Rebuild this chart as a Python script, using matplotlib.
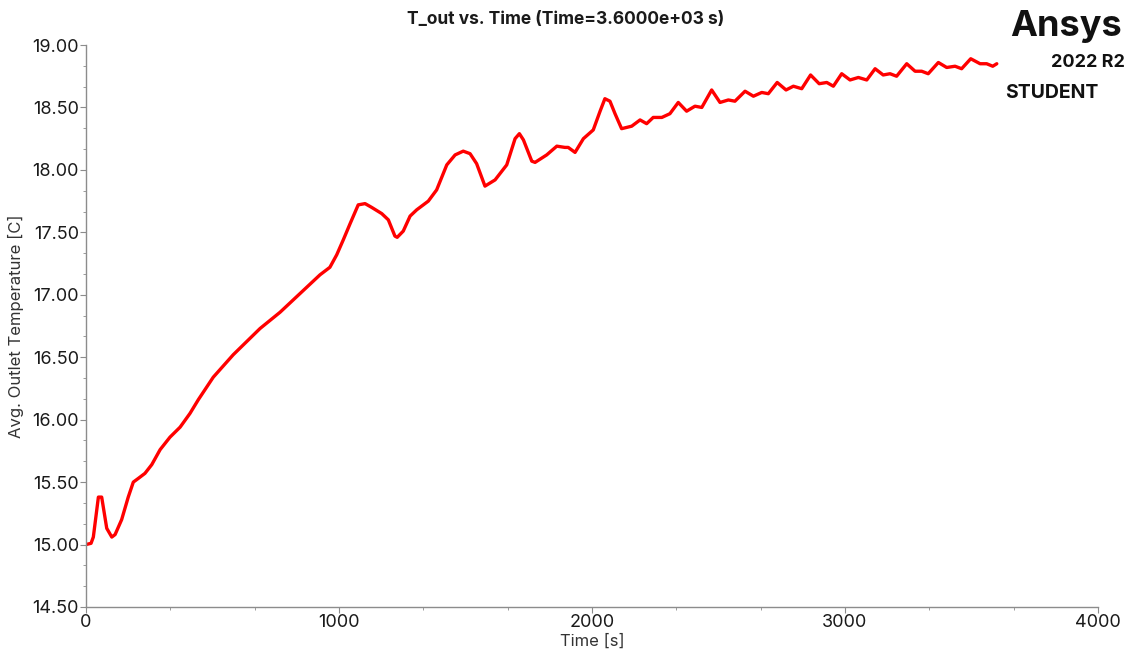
import numpy as np
import matplotlib.pyplot as plt
from matplotlib.ticker import MultipleLocator, AutoMinorLocator

# monitor history: average outlet temperature over flow time
time_s = [0, 20, 29, 49, 62, 82, 102, 115, 141, 167, 187, 207, 233, 260, 293, 332,
          372, 411, 444, 503, 582, 688, 767, 846, 925, 964, 991, 1017, 1044, 1076,
          1103, 1129, 1169, 1195, 1221, 1230, 1254, 1281, 1307, 1353, 1386, 1426,
          1459, 1491, 1518, 1544, 1577, 1617, 1663, 1696, 1713, 1729, 1762, 1775,
          1821, 1861, 1893, 1906, 1933, 1966, 2005, 2032, 2051, 2071, 2091, 2117,
          2157, 2190, 2216, 2242, 2276, 2308, 2341, 2374, 2407, 2434, 2473, 2506,
          2539, 2565, 2605, 2638, 2671, 2697, 2732, 2767, 2796, 2829, 2864, 2898,
          2928, 2954, 2987, 3020, 3053, 3086, 3119, 3151, 3178, 3204, 3244, 3277,
          3303, 3329, 3369, 3402, 3435, 3461, 3497, 3534, 3560, 3584, 3600]
t_out = [15.00, 15.01, 15.06, 15.38, 15.38, 15.13, 15.06, 15.08, 15.20, 15.38, 15.50,
         15.53, 15.57, 15.64, 15.76, 15.86, 15.94, 16.05, 16.16, 16.34, 16.52, 16.73,
         16.86, 17.01, 17.16, 17.22, 17.32, 17.44, 17.57, 17.72, 17.73, 17.70, 17.65,
         17.60, 17.47, 17.46, 17.51, 17.63, 17.68, 17.75, 17.84, 18.04, 18.12, 18.15,
         18.13, 18.05, 17.87, 17.92, 18.04, 18.25, 18.29, 18.24, 18.07, 18.06, 18.12,
         18.19, 18.18, 18.18, 18.14, 18.25, 18.32, 18.47, 18.57, 18.55, 18.45, 18.33,
         18.35, 18.40, 18.37, 18.42, 18.42, 18.45, 18.54, 18.47, 18.51, 18.50, 18.64,
         18.54, 18.56, 18.55, 18.63, 18.59, 18.62, 18.61, 18.70, 18.64, 18.67, 18.65,
         18.76, 18.69, 18.70, 18.67, 18.77, 18.72, 18.74, 18.72, 18.81, 18.76, 18.77,
         18.75, 18.85, 18.79, 18.79, 18.77, 18.86, 18.82, 18.83, 18.81, 18.89, 18.85,
         18.85, 18.83, 18.85]

plt.rcParams['font.family'] = ['Inter', 'DejaVu Sans']

fig = plt.figure(figsize=(11.33, 6.56), dpi=100)
ax = fig.add_axes([0.0759, 0.0747, 0.8932, 0.8567])

ax.plot(time_s, t_out, color='#ff0000', lw=2.4, solid_joinstyle='round',
        solid_capstyle='round')

ax.set_xlim(0, 4000)
ax.set_ylim(14.5, 19.0)
ax.xaxis.set_major_locator(MultipleLocator(1000))
ax.yaxis.set_major_locator(MultipleLocator(0.5))
ax.xaxis.set_minor_locator(AutoMinorLocator(3))
ax.yaxis.set_minor_locator(AutoMinorLocator(3))
ax.yaxis.set_major_formatter(lambda v, p: f'{v:.2f}')

for s in ['top', 'right']:
    ax.spines[s].set_visible(False)
for s in ['left', 'bottom']:
    ax.spines[s].set_color('#8c8c8c')
    ax.spines[s].set_linewidth(1.0)
ax.tick_params(which='major', length=4, color='#8c8c8c', labelsize=13,
               labelcolor='#1a1a1a', pad=1)
ax.tick_params(which='minor', length=2.5, color='#8c8c8c')

ax.set_xlabel('Time [s]', fontsize=12, color='#333333', labelpad=2)
ax.set_ylabel('Avg. Outlet Temperature [C]', fontsize=12, color='#333333', labelpad=6)

fig.text(0.499, 0.971, 'T_out vs. Time (Time=3.6000e+03 s)', ha='center', va='center',
         fontsize=12.5, fontweight='bold', color='#1a1a1a')

# branding block, top right
fig.text(0.990, 0.960, 'Ansys', ha='right', va='center', fontsize=26,
         fontweight='bold', color='#111111')
fig.text(0.993, 0.905, '2022 R2', ha='right', va='center', fontsize=13,
         fontweight='bold', color='#111111')
fig.text(0.887, 0.858, 'STUDENT', ha='left', va='center', fontsize=14,
         fontweight='bold', color='#111111')

fig.savefig('out.png', dpi=100)
